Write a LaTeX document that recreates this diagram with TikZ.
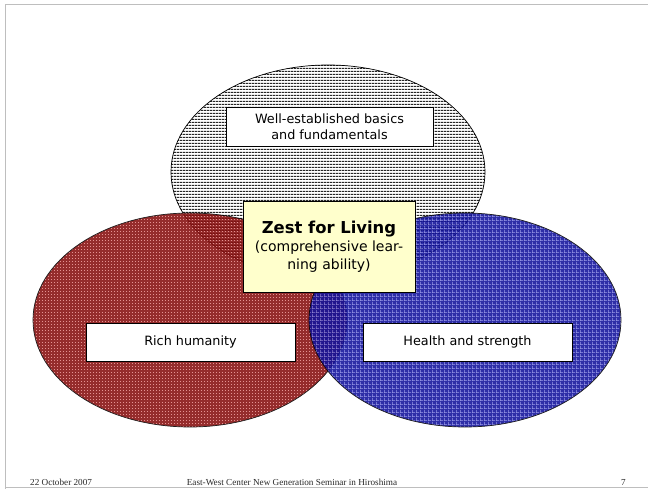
\documentclass[tikz,border=0pt]{standalone}
\usepackage{fontspec}
\setmainfont{DejaVu Sans}
\newfontfamily\timesf{Liberation Serif}
\usetikzlibrary{patterns}
\definecolor{framegray}{RGB}{190,190,190}
\definecolor{redbase}{RGB}{135,15,15}
\definecolor{redlight}{RGB}{225,130,130}
\definecolor{bluebase}{RGB}{18,18,155}
\definecolor{bluelight}{RGB}{140,140,230}
\definecolor{zestfill}{RGB}{255,255,204}
\definecolor{foot}{RGB}{40,40,40}
\pgfdeclarepatternformonly{hstripes}{\pgfqpoint{0pt}{0pt}}{\pgfqpoint{3pt}{3pt}}{\pgfqpoint{3pt}{3pt}}{%
  \pgfpathrectangle{\pgfqpoint{0pt}{0pt}}{\pgfqpoint{3pt}{1.4pt}}\pgfusepath{fill}}
\pgfdeclarepatternformonly{reddots}{\pgfqpoint{0pt}{0pt}}{\pgfqpoint{3pt}{3pt}}{\pgfqpoint{3pt}{3pt}}{%
  \pgfpathrectangle{\pgfqpoint{0pt}{0pt}}{\pgfqpoint{1.2pt}{1.2pt}}\pgfusepath{fill}}
\pgfdeclarepatternformonly{bluegrid}{\pgfqpoint{0pt}{0pt}}{\pgfqpoint{4pt}{4pt}}{\pgfqpoint{4pt}{4pt}}{%
  \pgfpathrectangle{\pgfqpoint{0pt}{0pt}}{\pgfqpoint{4pt}{0.8pt}}%
  \pgfpathrectangle{\pgfqpoint{0pt}{0pt}}{\pgfqpoint{0.8pt}{4pt}}\pgfusepath{fill}}
\tikzset{
  lbl/.style={draw=black, line width=0.6pt, fill=white, inner sep=0pt, align=center,
    font=\fontsize{12.8}{16}\selectfont},
  zestbox/.style={draw=black, line width=0.6pt, fill=zestfill, inner sep=0pt, align=center,
    font=\fontsize{14}{18}\selectfont},
  footer/.style={font=\timesf\fontsize{9.2}{11}\selectfont, text=foot, inner sep=0pt},
  outline/.style={draw=black, line width=0.7pt},
}
\begin{document}
\begin{tikzpicture}[x=1pt,y=-1pt]
\useasboundingbox (0,0) rectangle (648,489);
\fill[white] (0,0) rectangle (648,489);
% frame
\draw[framegray, line width=1pt] (5.5,489) -- (5.5,4.5) -- (648,4.5);
\draw[framegray, line width=1pt] (5.5,487.5) -- (648,487.5);
% top ellipse
\fill[white] (328,172) ellipse [x radius=157pt, y radius=107pt];
\fill[pattern=hstripes, pattern color=black!85] (328,172) ellipse [x radius=157pt, y radius=107pt];
\draw[outline] (328,172) ellipse [x radius=157pt, y radius=107pt];
% left ellipse
\begin{scope}[transparency group, opacity=0.88]
\fill[redbase] (190,320) ellipse [x radius=157pt, y radius=107pt];
\fill[pattern=reddots, pattern color=redlight] (190,320) ellipse [x radius=157pt, y radius=107pt];
\draw[outline] (190,320) ellipse [x radius=157pt, y radius=107pt];
\end{scope}
% right ellipse
\begin{scope}[transparency group, opacity=0.88]
\fill[bluebase] (465,320) ellipse [x radius=156pt, y radius=107pt];
\fill[pattern=bluegrid, pattern color=bluelight] (465,320) ellipse [x radius=156pt, y radius=107pt];
\draw[outline] (465,320) ellipse [x radius=156pt, y radius=107pt];
\end{scope}
% labels
\node[lbl, minimum width=207pt, minimum height=39pt] (basics) at (329.5,126.5)
  {Well-established basics\\and fundamentals};
\node[lbl, minimum width=209pt, minimum height=38pt] (rich) at (190.5,342) {Rich humanity};
\node[lbl, minimum width=209pt, minimum height=38pt] (health) at (467.5,342) {Health and strength};
\node[zestbox, minimum width=172pt, minimum height=91pt] (zest) at (329,246.5)
  {{\fontsize{16.4}{18}\selectfont\bfseries Zest for Living}\\(comprehensive lear-\\ning ability)};
% footer
\node[footer, anchor=base west] (date) at (30,485) {22 October 2007};
\node[footer, anchor=base] (title) at (292,485) {East-West Center New Generation Seminar in Hiroshima};
\node[footer, anchor=base east] (page) at (626,485) {7};
\end{tikzpicture}
\end{document}
